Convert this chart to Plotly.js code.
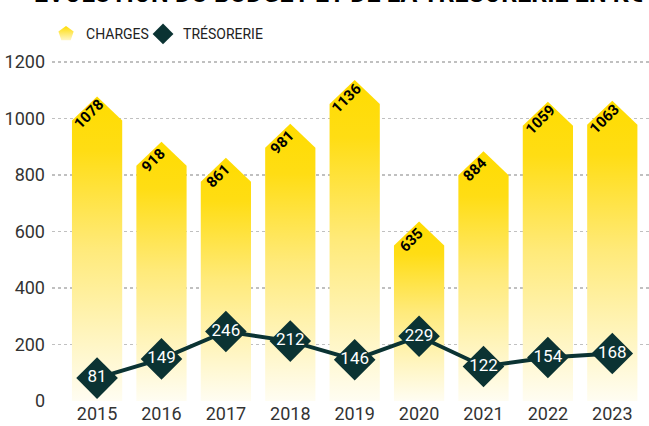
<!DOCTYPE html>
<html><head><meta charset="utf-8">
<script src="https://cdn.plot.ly/plotly-3.0.1.min.js"></script>
<style>html,body{margin:0;padding:0;background:#fff}#chart{width:649px;height:426px}</style>
</head><body><div id="chart"></div>
<script>
const years = ['2015','2016','2017','2018','2019','2020','2021','2022','2023'];
const charges = [1078, 918, 861, 981, 1136, 635, 884, 1059, 1063];
const tresorerie = [81, 149, 246, 212, 146, 229, 122, 154, 168];
const titleText = 'ÉVOLUTION DU BUDGET ET DE LA TRÉSORERIE EN K€';

const idx = years.map((_, i) => i);
const halfW = 0.39;   // half bar width in category units
const roof = 85;      // roof height in value units
const yellowScale = [[0,'#fffdf2'],[0.5,'#ffea7a'],[0.82,'#ffdd14'],[1,'#ffdc00']];

const traces = [];
charges.forEach((v, i) => {
  traces.push({
    type: 'scatter', mode: 'lines',
    x: [i-halfW, i-halfW, i, i+halfW, i+halfW, i-halfW],
    y: [0, v-roof, v, v-roof, 0, 0],
    fill: 'toself', line: {width: 0, color: 'rgba(0,0,0,0)'},
    fillgradient: {type: 'vertical', colorscale: yellowScale},
    name: 'CHARGES', showlegend: false,
    hoverinfo: 'skip'
  });
});
traces.push({
  type: 'scatter', mode: 'lines+markers+text',
  x: idx, y: tresorerie,
  text: tresorerie.map(String), textposition: 'middle center',
  textfont: {family: 'Roboto', size: 17, color: '#ffffff'},
  line: {color: '#0b3333', width: 4},
  marker: {symbol: 'diamond', size: 32, color: '#0b3333'},
  cliponaxis: false, showlegend: false, name: 'TRÉSORERIE'
});
// legend-only entries
traces.push({
  type: 'scatter', mode: 'markers', x: [null], y: [null],
  marker: {symbol: 'pentagon', size: 24, color: '#ffdc00', gradient: {type: 'vertical', color: '#fff6c8'}},
  name: 'CHARGES', showlegend: true
});
traces.push({
  type: 'scatter', mode: 'markers', x: [null], y: [null],
  marker: {symbol: 'diamond', size: 19, color: '#0b3333'},
  name: 'TRÉSORERIE', showlegend: true
});
traces.push({
  type: 'scatter', mode: 'markers', x: [null], y: [null],
  marker: {size: 1, opacity: 0, color: 'rgba(0,0,0,0)'},
  name: ' ', showlegend: true
});

const annotations = charges.map((v, i) => ({
  x: i, y: v, xref: 'x', yref: 'y', text: String(v), showarrow: false,
  textangle: -45, xshift: -8, yshift: -18,
  font: {family: 'Roboto', size: 15, color: '#000', weight: 'bold'}
}));
annotations.push({
  xref: 'paper', yref: 'paper', x: -0.0335, y: 1.097, xanchor: 'left', yanchor: 'bottom',
  text: titleText, showarrow: false,
  font: {family: 'Roboto', size: 25, color: '#000', weight: 'bold'}
});

const layout = {
  width: 649, height: 426,
  margin: {l: 52, r: 0, t: 45, b: 25},
  paper_bgcolor: '#fff', plot_bgcolor: 'rgba(0,0,0,0)',
  showlegend: true,
  legend: {orientation: 'h', x: -0.01, y: 1.075, xanchor: 'left', yanchor: 'top',
    entrywidth: 52, entrywidthmode: 'pixels',
    font: {family: 'Roboto', size: 14, color: '#222'}, itemwidth: 30, tracegroupgap: 0},
  xaxis: {range: [-0.7, 8.57], tickvals: idx, ticktext: years, showgrid: false, zeroline: false,
    showline: false, ticks: '', tickfont: {family: 'Roboto', size: 18, color: '#333'}, fixedrange: true},
  yaxis: {range: [0, 1260], tickvals: [0,200,400,600,800,1000,1200], showgrid: true,
    gridcolor: '#c0c0c0', griddash: 'dot', gridwidth: 1.5, zeroline: false, showline: false,
    ticks: '', ticklabelstandoff: 6, tickfont: {family: 'Roboto', size: 18, color: '#333'}, fixedrange: true},
  annotations: annotations
};
Plotly.newPlot('chart', traces, layout, {staticPlot: true});
</script></body></html>
